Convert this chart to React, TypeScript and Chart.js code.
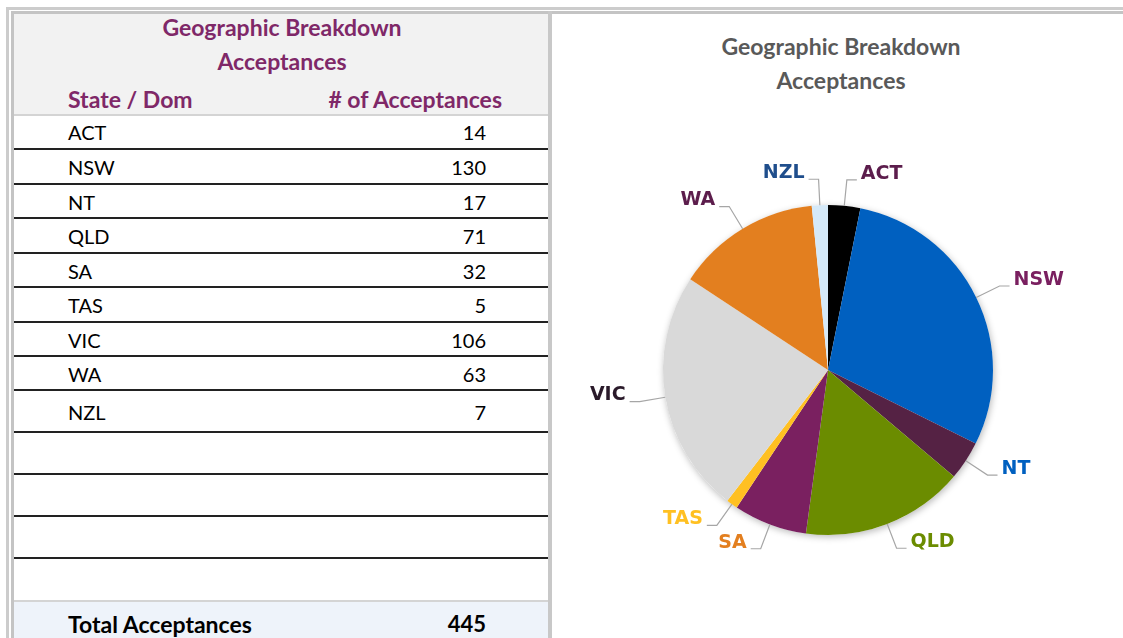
import React, { useEffect, useRef } from "react";
import { Chart, registerables } from "chart.js";

Chart.register(...registerables);

const categories = ["ACT", "NSW", "NT", "QLD", "SA", "TAS", "VIC", "WA", "NZL"];
const acceptances = [14, 130, 17, 71, 32, 5, 106, 63, 7];
const emptyRows = 4;

const sliceColors = ["#000000", "#0060c0", "#552244", "#6b8c00", "#7a2060", "#ffc022", "#d9d9d9", "#e37f1f", "#d5e9f8"];
const labelColors = ["#5c1d4c", "#7a2060", "#0060c0", "#6b8c00", "#e37f1f", "#ffc022", "#2a1a2a", "#5c1d4c", "#1f4e8c"];

const titleLines = ["Geographic Breakdown", "Acceptances"];
const colHeaders = ["State / Dom", "# of Acceptances"];
const totalLabel = "Total Acceptances";

const FONT = "Lato, 'Open Sans', sans-serif";

const pieDecor = {
  id: "pieDecor",
  beforeDatasetsDraw(chart: any) {
    const meta = chart.getDatasetMeta(0);
    const a = meta.data[0];
    if (!a) return;
    const { x, y, outerRadius } = a.getProps(["x", "y", "outerRadius"], true);
    const ctx = chart.ctx;
    ctx.save();
    ctx.shadowColor = "rgba(0,0,0,0.28)";
    ctx.shadowBlur = 7;
    ctx.shadowOffsetX = 1;
    ctx.shadowOffsetY = 2;
    ctx.fillStyle = "#ffffff";
    ctx.beginPath();
    ctx.arc(x, y, outerRadius, 0, Math.PI * 2);
    ctx.fill();
    ctx.restore();
  },
  afterDatasetsDraw(chart: any) {
    const meta = chart.getDatasetMeta(0);
    const ctx = chart.ctx;
    const labels = chart.data.labels;
    ctx.save();
    ctx.font = "bold 19px 'DejaVu Sans', Verdana, sans-serif";
    meta.data.forEach((arc: any, i: number) => {
      const { x, y, startAngle, endAngle, outerRadius } = arc.getProps(
        ["x", "y", "startAngle", "endAngle", "outerRadius"],
        true
      );
      const mid = (startAngle + endAngle) / 2;
      const c = Math.cos(mid);
      const s = Math.sin(mid);
      const p0x = x + c * outerRadius;
      const p0y = y + s * outerRadius;
      const L = 26;
      const p1x = p0x + c * L;
      const p1y = p0y + s * L;
      const side = c >= 0 ? 1 : -1;
      const p2x = p1x + side * 10;
      ctx.strokeStyle = "#a6a6a6";
      ctx.lineWidth = 1.2;
      ctx.beginPath();
      ctx.moveTo(p0x, p0y);
      ctx.lineTo(p1x, p1y);
      ctx.lineTo(p2x, p1y);
      ctx.stroke();
      ctx.fillStyle = labelColors[i];
      ctx.textAlign = side > 0 ? "left" : "right";
      ctx.textBaseline = "middle";
      ctx.fillText(labels[i], p2x + side * 4, p1y - 6);
    });
    ctx.restore();
  },
};

function PieChart() {
  const ref = useRef<HTMLCanvasElement | null>(null);
  useEffect(() => {
    if (!ref.current) return;
    const chart = new Chart(ref.current, {
      type: "pie",
      data: {
        labels: categories,
        datasets: [
          {
            data: acceptances,
            backgroundColor: sliceColors,
            borderWidth: 0,
          },
        ],
      },
      options: {
        responsive: false,
        animation: false,
        devicePixelRatio: 1,
        layout: { padding: { left: 110, right: 130, top: 191, bottom: 103 } },
        plugins: {
          legend: { display: false },
          tooltip: { enabled: false },
          title: { display: false },
        },
      },
      plugins: [pieDecor],
    });
    return () => chart.destroy();
  }, []);
  return (
    <canvas
      ref={ref}
      width={570}
      height={624}
      style={{ position: "absolute", left: 553, top: 14, width: 570, height: 624 }}
    />
  );
}

export default function App() {
  const total = acceptances.reduce((a, b) => a + b, 0);
  const rowBounds: number[] = [114, 149, 184, 218, 253, 287, 322, 356, 390, 432, 474, 516, 558, 600];
  const rows = categories.map((c, i) => ({ label: c, value: String(acceptances[i]) }));
  for (let k = 0; k < emptyRows; k++) rows.push({ label: "", value: "" });
  const purple = "#7f2868";
  return (
    <div
      style={{
        position: "fixed",
        left: 0,
        top: 0,
        width: 1123,
        height: 638,
        overflow: "hidden",
        background: "#ffffff",
        fontFamily: FONT,
      }}
    >
      {/* outer frame lines */}
      <div style={{ position: "absolute", left: 6, top: 7, width: 1200, height: 3, background: "#cccccc" }} />
      <div style={{ position: "absolute", left: 6, top: 7, width: 3, height: 700, background: "#cccccc" }} />
      <div style={{ position: "absolute", left: 11, top: 11, width: 1200, height: 3, background: "#c4c4c4" }} />
      <div style={{ position: "absolute", left: 11, top: 11, width: 3, height: 700, background: "#c4c4c4" }} />
      {/* header background */}
      <div style={{ position: "absolute", left: 14, top: 14, width: 534, height: 100, background: "#f2f2f2" }} />
      <div style={{ position: "absolute", left: 14, top: 114, width: 534, height: 2, background: "#d4d4d4" }} />
      {/* divider */}
      <div style={{ position: "absolute", left: 548, top: 11, width: 4, height: 700, background: "#c8c8c8" }} />
      {/* header texts */}
      {titleLines.map((t, i) => (
        <div
          key={t}
          style={{
            position: "absolute",
            left: 14,
            width: 536,
            top: 13 + i * 34,
            height: 28,
            lineHeight: "28px",
            textAlign: "center",
            fontWeight: 700,
            fontSize: 23,
            color: purple,
          }}
        >
          {t}
        </div>
      ))}
      <div style={{ position: "absolute", left: 68, top: 85, lineHeight: "28px", fontWeight: 700, fontSize: 23, color: purple }}>
        {colHeaders[0]}
      </div>
      <div
        style={{
          position: "absolute",
          left: 280,
          width: 222,
          top: 85,
          lineHeight: "28px",
          textAlign: "right",
          fontWeight: 700,
          fontSize: 23,
          color: purple,
        }}
      >
        {colHeaders[1]}
      </div>
      {/* rows */}
      {rows.map((r, i) => {
        const top = rowBounds[i];
        const bottom = rowBounds[i + 1];
        return (
          <React.Fragment key={i}>
            <div
              style={{
                position: "absolute",
                left: 68,
                top: top + 1,
                height: bottom - top,
                lineHeight: bottom - top + "px",
                fontSize: 20,
                color: "#000",
              }}
            >
              {r.label}
            </div>
            <div
              style={{
                position: "absolute",
                left: 380,
                width: 106,
                textAlign: "right",
                top: top + 1,
                height: bottom - top,
                lineHeight: bottom - top + "px",
                fontSize: 20,
                color: "#000",
              }}
            >
              {r.value}
            </div>
            {i < rows.length - 1 && (
              <div style={{ position: "absolute", left: 14, top: bottom - 1, width: 534, height: 2, background: "#222222" }} />
            )}
          </React.Fragment>
        );
      })}
      {/* total row */}
      <div style={{ position: "absolute", left: 14, top: 600, width: 534, height: 2, background: "#d4d4d4" }} />
      <div style={{ position: "absolute", left: 14, top: 602, width: 534, height: 60, background: "#eef3fa" }} />
      <div style={{ position: "absolute", left: 68, top: 609, lineHeight: "30px", fontSize: 23, fontWeight: 700, color: "#000" }}>
        {totalLabel}
      </div>
      <div
        style={{
          position: "absolute",
          left: 380,
          width: 106,
          textAlign: "right",
          top: 609,
          lineHeight: "30px",
          fontSize: 22,
          fontWeight: 700,
          color: "#000",
        }}
      >
        {String(total)}
      </div>
      {/* chart title */}
      {titleLines.map((t, i) => (
        <div
          key={"r" + t}
          style={{
            position: "absolute",
            left: 600,
            width: 482,
            top: 32 + i * 34,
            lineHeight: "28px",
            textAlign: "center",
            fontWeight: 700,
            fontSize: 23,
            color: "#595959",
          }}
        >
          {t}
        </div>
      ))}
      <PieChart />
    </div>
  );
}
